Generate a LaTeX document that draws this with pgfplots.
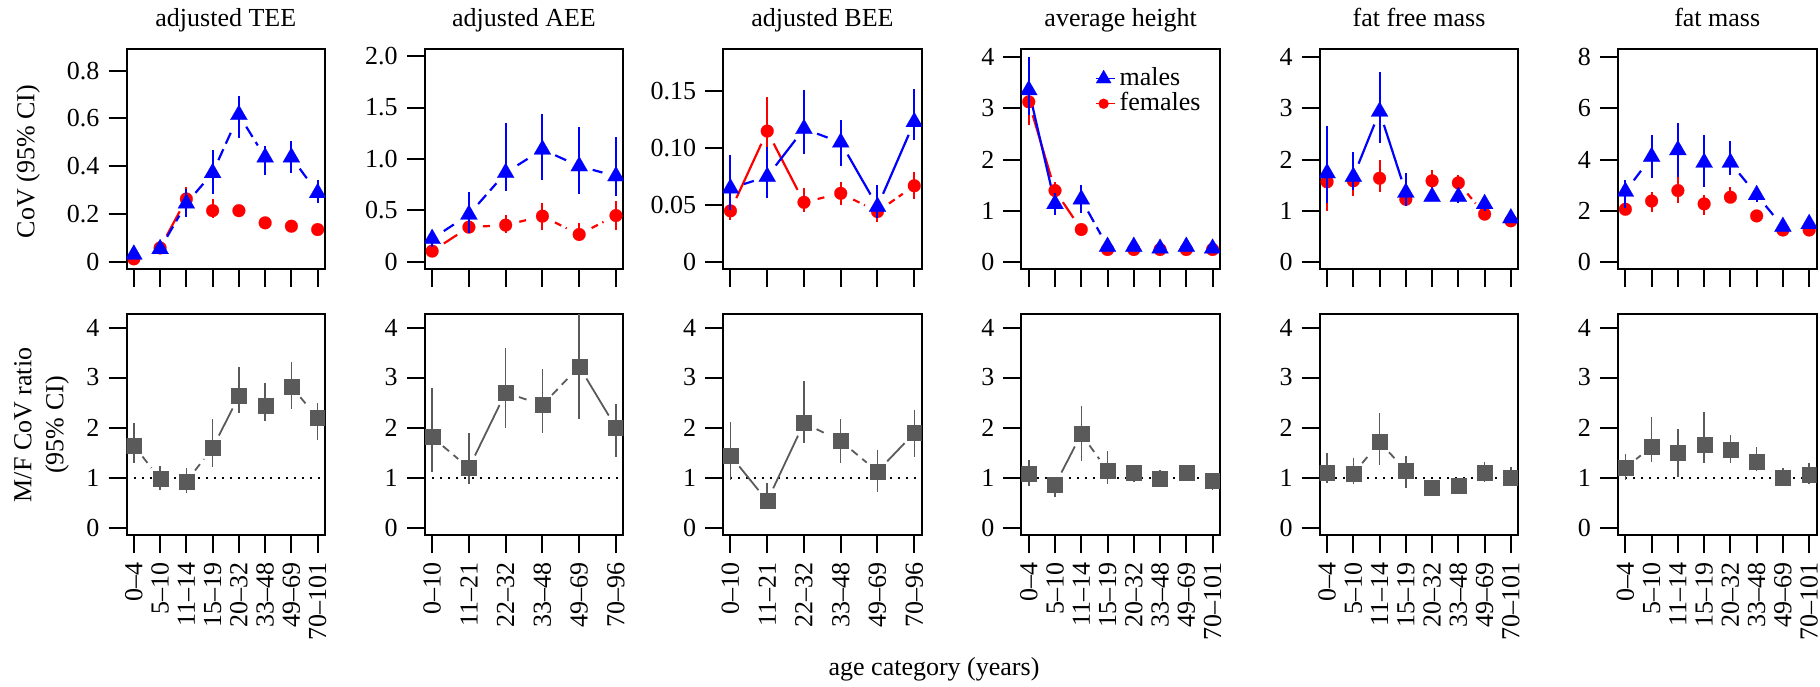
\documentclass[border=0pt]{standalone}
\usepackage{fontspec}
\setmainfont{Liberation Serif}
\usepackage{pgfplots}
\pgfplotsset{compat=1.18}
\definecolor{mgray}{RGB}{90,90,90}
\newcommand{\fs}{\fontsize{13}{15}\selectfont}
\pgfplotsset{
 panel/.style={
  scale only axis, width=99.25pt, anchor=south west,
  axis line style={line width=1pt, black},
  tick align=outside, tick pos=left, major tick length=9pt,
  every tick/.append style={black, line width=1pt},
  tick label style={font=\fs, black},
  clip marker paths=true, scaled ticks=false,
 },
 top/.style={panel, height=110pt, xticklabels={}},
 bot/.style={panel, height=110.5pt, ymin=-0.15, ymax=4.27, ytick={0,1,2,3,4}, yticklabels={0,1,2,3,4},
   xticklabel style={rotate=90, anchor=east}},
 c8/.style={xmin=-0.28, xmax=7.28, xtick={0,1,2,3,4,5,6,7}},
 c6/.style={xmin=-0.2, xmax=5.2, xtick={0,1,2,3,4,5}},
 l8/.style={xticklabels={0--4,5--10,11--14,15--19,20--32,33--48,49--69,70--101}},
 l6/.style={xticklabels={0--10,11--21,22--32,33--48,49--69,70--96}},
 ms/.style={blue, line width=1.1pt, solid, shorten <=7pt, shorten >=7pt, forget plot},
 md/.style={ms, dash pattern=on 6pt off 3pt},
 fs/.style={red, line width=1.1pt, solid, shorten <=7pt, shorten >=7pt, forget plot},
 fd/.style={fs, dash pattern=on 3.5pt off 2.5pt},
 gs/.style={mgray, line width=0.9pt, solid, shorten <=7pt, shorten >=7pt, forget plot},
 gd/.style={gs, dash pattern=on 4pt off 3pt},
 eb/.style={error bars/y dir=both, error bars/y explicit, error bars/error mark=none},
 mp/.style={blue, only marks, mark=triangle*, mark size=4.9pt, mark options={solid, fill=blue, line width=0.1pt}, forget plot,
   eb, error bars/error bar style={line width=1pt, blue, solid}},
 fp/.style={red, only marks, mark=*, mark size=3.2pt, mark options={solid, fill=red, line width=0.1pt}, forget plot,
   eb, error bars/error bar style={line width=1pt, red, solid}},
 gp/.style={mgray, only marks, mark=square*, mark size=3.75pt, mark options={solid, fill=mgray, line width=0.1pt}, forget plot,
   eb, error bars/error bar style={line width=0.75pt, mgray, solid}},
 ref/.style={black, line width=1pt, dash pattern=on 1pt off 3pt, forget plot},
}
\begin{document}
\fs
\begin{tikzpicture}
%================ TOP ROW =================
% adjusted TEE
\begin{axis}[top, c8, at={(63.25pt,-134.5pt)}, ymin=-0.03, ymax=0.89,
  ytick={0,0.2,0.4,0.6,0.8}, yticklabels={0,0.2,0.4,0.6,0.8}]
\addplot[fs] coordinates {(1,0.058) (2,0.263)};
\addplot[md] coordinates {(1,0.054) (2,0.244)};
\addplot[md] coordinates {(2,0.244) (3,0.372)};
\addplot[md] coordinates {(3,0.372) (4,0.615)};
\addplot[md] coordinates {(4,0.615) (5,0.437)};
\addplot[md] coordinates {(6,0.437) (7,0.288)};
\addplot[fp] table[x=x,y=y,y error plus=p,y error minus=m,row sep=\\] {
x y p m\\ 0 0.0125 0 0\\ 1 0.058 0 0\\ 2 0.263 0.050 0.040\\ 3 0.214 0.050 0.030\\
4 0.214 0.018 0.016\\ 5 0.163 0.012 0.012\\ 6 0.149 0.010 0.010\\ 7 0.135 0.010 0.010\\};
\addplot[mp] table[x=x,y=y,y error plus=p,y error minus=m,row sep=\\] {
x y p m\\ 0 0.031 0 0\\ 1 0.054 0 0\\ 2 0.244 0.061 0.056\\ 3 0.372 0.094 0.087\\
4 0.615 0.077 0.097\\ 5 0.437 0.046 0.072\\ 6 0.437 0.070 0.065\\ 7 0.288 0.056 0.044\\};
\end{axis}
% adjusted AEE
\begin{axis}[top, c6, at={(212.4pt,-134.5pt)}, ymin=-0.07, ymax=2.07,
  ytick={0,0.5,1,1.5,2}, yticklabels={0,0.5,1.0,1.5,2.0}]
\addplot[fs] coordinates {(0,0.104) (1,0.337)};
\addplot[fd] coordinates {(1,0.337) (2,0.357)};
\addplot[fd] coordinates {(2,0.357) (3,0.444)};
\addplot[fd] coordinates {(3,0.444) (4,0.266)};
\addplot[fd] coordinates {(4,0.266) (5,0.45)};
\addplot[md] coordinates {(0,0.224) (1,0.46)};
\addplot[md] coordinates {(1,0.46) (2,0.866)};
\addplot[md] coordinates {(2,0.866) (3,1.093)};
\addplot[md] coordinates {(3,1.093) (4,0.93)};
\addplot[md] coordinates {(4,0.93) (5,0.833)};
\addplot[fp] table[x=x,y=y,y error plus=p,y error minus=m,row sep=\\] {
x y p m\\ 0 0.104 0.03 0.03\\ 1 0.337 0.103 0.057\\ 2 0.357 0.103 0.077\\
3 0.444 0.126 0.134\\ 4 0.266 0.114 0.066\\ 5 0.450 0.140 0.140\\};
\addplot[mp] table[x=x,y=y,y error plus=p,y error minus=m,row sep=\\] {
x y p m\\ 0 0.224 0.086 0.084\\ 1 0.460 0.220 0.180\\ 2 0.866 0.484 0.176\\
3 1.093 0.347 0.293\\ 4 0.930 0.380 0.275\\ 5 0.833 0.377 0.193\\};
\end{axis}
% adjusted BEE
\begin{axis}[top, c6, at={(361.55pt,-134.5pt)}, ymin=-0.006, ymax=0.187,
  ytick={0,0.05,0.1,0.15}, yticklabels={0,0.05,0.10,0.15}]
\addplot[fs] coordinates {(0,0.045) (1,0.115)};
\addplot[fs] coordinates {(1,0.115) (2,0.0525)};
\addplot[fd] coordinates {(2,0.0525) (3,0.0604)};
\addplot[fd] coordinates {(3,0.0604) (4,0.0444)};
\addplot[fd] coordinates {(4,0.0444) (5,0.067)};
\addplot[md] coordinates {(0,0.0648) (1,0.075)};
\addplot[ms] coordinates {(1,0.075) (2,0.117)};
\addplot[md] coordinates {(2,0.117) (3,0.105)};
\addplot[ms] coordinates {(3,0.105) (4,0.0487)};
\addplot[ms] coordinates {(4,0.0487) (5,0.123)};
\addplot[fp] table[x=x,y=y,y error plus=p,y error minus=m,row sep=\\] {
x y p m\\ 0 0.0450 0.0125 0.0080\\ 1 0.1150 0.0300 0.0140\\ 2 0.0525 0.0125 0.0085\\
3 0.0604 0.0102 0.0104\\ 4 0.0444 0.0076 0.0094\\ 5 0.0670 0.0120 0.0120\\};
\addplot[mp] table[x=x,y=y,y error plus=p,y error minus=m,row sep=\\] {
x y p m\\ 0 0.0648 0.0292 0.0188\\ 1 0.0750 0.0260 0.0190\\ 2 0.1170 0.0340 0.0220\\
3 0.1050 0.0200 0.0210\\ 4 0.0487 0.0193 0.0102\\ 5 0.1230 0.0290 0.0160\\};
\end{axis}
% average height
\begin{axis}[top, c8, at={(510.7pt,-134.5pt)}, ymin=-0.13, ymax=4.16,
  ytick={0,1,2,3,4}, yticklabels={0,1,2,3,4},
  legend style={at={(0.37,0.935)}, anchor=north west, draw=none, fill=none, font=\fs,
    inner sep=0pt, row sep=-2.5pt},
  legend cell align=left,
  legend image code/.code={\draw[#1] plot coordinates {(0pt,0pt)}; \path (-4pt,0pt) -- (5.8pt,0pt);}]
\addplot[fs] coordinates {(0,3.13) (1,1.40)};
\addplot[fs] coordinates {(1,1.40) (2,0.64)};
\addplot[ms] coordinates {(0,3.36) (1,1.14)};
\addplot[md] coordinates {(2,1.23) (3,0.306)};
\addplot[fp] table[x=x,y=y,y error plus=p,y error minus=m,row sep=\\] {
x y p m\\ 0 3.13 0.59 0.45\\ 1 1.40 0.17 0.18\\ 2 0.64 0.05 0.05\\ 3 0.25 0.04 0.04\\
4 0.25 0.04 0.04\\ 5 0.25 0.04 0.04\\ 6 0.25 0.04 0.04\\ 7 0.25 0.04 0.04\\};
\addplot[mp] table[x=x,y=y,y error plus=p,y error minus=m,row sep=\\] {
x y p m\\ 0 3.36 0.65 0.49\\ 1 1.14 0.21 0.22\\ 2 1.23 0.28 0.27\\ 3 0.306 0.05 0.05\\
4 0.306 0.05 0.05\\ 5 0.27 0.05 0.05\\ 6 0.306 0.05 0.05\\ 7 0.27 0.05 0.05\\};
\addlegendimage{blue, only marks, mark=triangle*, mark size=4.33pt, mark options={fill=blue, line width=0.1pt}}
\addlegendentry{males}
\addlegendimage{red, only marks, mark=*, mark size=2.5pt, mark options={fill=red, line width=0.1pt}}
\addlegendentry{females}
\end{axis}
% fat free mass
\begin{axis}[top, c8, at={(659.85pt,-134.5pt)}, ymin=-0.13, ymax=4.16,
  ytick={0,1,2,3,4}, yticklabels={0,1,2,3,4}]
\addplot[fd] coordinates {(5,1.55) (6,0.94)};
\addplot[ms] coordinates {(1,1.67) (2,2.94)};
\addplot[ms] coordinates {(2,2.94) (3,1.36)};
\addplot[fp] table[x=x,y=y,y error plus=p,y error minus=m,row sep=\\] {
x y p m\\ 0 1.57 0.80 0.57\\ 1 1.59 0.24 0.30\\ 2 1.64 0.36 0.26\\ 3 1.23 0.15 0.14\\
4 1.59 0.21 0.15\\ 5 1.55 0.15 0.14\\ 6 0.94 0.06 0.06\\ 7 0.81 0.05 0.05\\};
\addplot[mp] table[x=x,y=y,y error plus=p,y error minus=m,row sep=\\] {
x y p m\\ 0 1.74 0.91 0.59\\ 1 1.67 0.49 0.26\\ 2 2.94 0.78 0.62\\ 3 1.36 0.38 0.27\\
4 1.28 0.08 0.08\\ 5 1.28 0.13 0.13\\ 6 1.14 0.14 0.14\\ 7 0.86 0.08 0.08\\};
\end{axis}
% fat mass
\begin{axis}[top, c8, at={(809pt,-134.5pt)}, ymin=-0.26, ymax=8.32,
  ytick={0,2,4,6,8}, yticklabels={0,2,4,6,8}]
\addplot[md] coordinates {(0,2.76) (1,4.12)};
\addplot[md] coordinates {(4,3.89) (5,2.63)};
\addplot[md] coordinates {(5,2.63) (6,1.39)};
\addplot[fp] table[x=x,y=y,y error plus=p,y error minus=m,row sep=\\] {
x y p m\\ 0 2.07 0.36 0.22\\ 1 2.39 0.37 0.41\\ 2 2.80 0.61 0.50\\ 3 2.28 0.35 0.43\\
4 2.54 0.41 0.24\\ 5 1.81 0.10 0.10\\ 6 1.26 0.10 0.10\\ 7 1.26 0.10 0.10\\};
\addplot[mp] table[x=x,y=y,y error plus=p,y error minus=m,row sep=\\] {
x y p m\\ 0 2.76 0.44 0.66\\ 1 4.12 0.85 0.84\\ 2 4.38 1.04 1.04\\ 3 3.89 1.08 0.94\\
4 3.89 0.86 0.48\\ 5 2.63 0.32 0.26\\ 6 1.39 0.10 0.10\\ 7 1.50 0.10 0.10\\};
\end{axis}
%================ BOTTOM ROW =================
\begin{axis}[bot, c8, l8, at={(63.25pt,-267.5pt)}]
\addplot[ref] coordinates {(0,1) (7.28,1)};
\addplot[gd] coordinates {(0,1.64) (1,0.97)};
\addplot[gd] coordinates {(2,0.92) (3,1.59)};
\addplot[gs] coordinates {(3,1.59) (4,2.63)};
\addplot[gd] coordinates {(6,2.82) (7,2.19)};
\addplot[gp] table[x=x,y=y,y error plus=p,y error minus=m,row sep=\\] {
x y p m\\ 0 1.64 0.45 0.34\\ 1 0.97 0.26 0.22\\ 2 0.92 0.27 0.23\\ 3 1.59 0.58 0.37\\
4 2.63 0.58 0.33\\ 5 2.44 0.45 0.30\\ 6 2.82 0.50 0.45\\ 7 2.19 0.31 0.44\\};
\end{axis}
\begin{axis}[bot, c6, l6, at={(212.4pt,-267.5pt)}]
\addplot[ref] coordinates {(0,1) (5.2,1)};
\addplot[gd] coordinates {(0,1.81) (1,1.19)};
\addplot[gs] coordinates {(1,1.19) (2,2.70)};
\addplot[gd] coordinates {(2,2.70) (3,2.45)};
\addplot[gd] coordinates {(3,2.45) (4,3.22)};
\addplot[gs] coordinates {(4,3.22) (5,2.00)};
\addplot[gp] table[x=x,y=y,y error plus=p,y error minus=m,row sep=\\] {
x y p m\\ 0 1.81 0.98 0.69\\ 1 1.19 0.71 0.32\\ 2 2.70 0.89 0.71\\ 3 2.45 0.72 0.55\\
4 3.22 1.30 1.05\\ 5 2.00 0.47 0.58\\};
\end{axis}
\begin{axis}[bot, c6, l6, at={(361.55pt,-267.5pt)}]
\addplot[ref] coordinates {(0,1) (5.2,1)};
\addplot[gs] coordinates {(0,1.44) (1,0.53)};
\addplot[gs] coordinates {(1,0.53) (2,2.09)};
\addplot[gd] coordinates {(2,2.09) (3,1.73)};
\addplot[gd] coordinates {(3,1.73) (4,1.12)};
\addplot[gs] coordinates {(4,1.12) (5,1.89)};
\addplot[gp] table[x=x,y=y,y error plus=p,y error minus=m,row sep=\\] {
x y p m\\ 0 1.44 0.68 0.49\\ 1 0.53 0.37 0.03\\ 2 2.09 0.85 0.40\\ 3 1.73 0.44 0.43\\
4 1.12 0.43 0.40\\ 5 1.89 0.46 0.47\\};
\end{axis}
\begin{axis}[bot, c8, l8, at={(510.7pt,-267.5pt)}]
\addplot[ref] coordinates {(0,1) (7.28,1)};
\addplot[gs] coordinates {(1,0.85) (2,1.87)};
\addplot[gd] coordinates {(2,1.87) (3,1.14)};
\addplot[gp] table[x=x,y=y,y error plus=p,y error minus=m,row sep=\\] {
x y p m\\ 0 1.07 0.28 0.24\\ 1 0.85 0.17 0.24\\ 2 1.87 0.56 0.53\\ 3 1.14 0.40 0.27\\
4 1.10 0.15 0.18\\ 5 0.97 0.18 0.12\\ 6 1.10 0.15 0.14\\ 7 0.93 0.15 0.17\\};
\end{axis}
\begin{axis}[bot, c8, l8, at={(659.85pt,-267.5pt)}]
\addplot[ref] coordinates {(0,1) (7.28,1)};
\addplot[gd] coordinates {(1,1.07) (2,1.71)};
\addplot[gd] coordinates {(2,1.71) (3,1.14)};
\addplot[gp] table[x=x,y=y,y error plus=p,y error minus=m,row sep=\\] {
x y p m\\ 0 1.10 0.39 0.21\\ 1 1.07 0.32 0.20\\ 2 1.71 0.58 0.46\\ 3 1.14 0.29 0.35\\
4 0.79 0.05 0.05\\ 5 0.83 0.15 0.15\\ 6 1.10 0.22 0.18\\ 7 0.99 0.23 0.16\\};
\end{axis}
\begin{axis}[bot, c8, l8, at={(809pt,-267.5pt)}]
\addplot[ref] coordinates {(0,1) (7.28,1)};
\addplot[gd] coordinates {(0,1.19) (1,1.62)};
\addplot[gp] table[x=x,y=y,y error plus=p,y error minus=m,row sep=\\] {
x y p m\\ 0 1.19 0.28 0.24\\ 1 1.62 0.59 0.30\\ 2 1.50 0.47 0.49\\ 3 1.65 0.67 0.36\\
4 1.55 0.30 0.26\\ 5 1.31 0.31 0.17\\ 6 0.99 0.20 0.16\\ 7 1.05 0.24 0.18\\};
\end{axis}
%================ TEXT =================
\node[anchor=base, font=\fs] at (112.9pt,-13.3pt) {adjusted TEE};
\node[anchor=base, font=\fs] at (262.0pt,-13.3pt) {adjusted AEE};
\node[anchor=base, font=\fs] at (411.2pt,-13.3pt) {adjusted BEE};
\node[anchor=base, font=\fs] at (560.3pt,-13.3pt) {average height};
\node[anchor=base, font=\fs] at (709.5pt,-13.3pt) {fat free mass};
\node[anchor=base, font=\fs] at (858.6pt,-13.3pt) {fat mass};
\node[rotate=90, font=\fs] at (14pt,-80.8pt) {CoV (95\% CI)};
\node[rotate=90, font=\fs] at (11.5pt,-212.5pt) {M/F CoV ratio};
\node[rotate=90, font=\fs] at (28.5pt,-212.5pt) {(95\% CI)};
\node[anchor=base, font=\fs] at (467pt,-337.5pt) {age category (years)};
\pgfresetboundingbox
\path[use as bounding box] (0,0) rectangle (910pt,-343pt);
\end{tikzpicture}
\end{document}
